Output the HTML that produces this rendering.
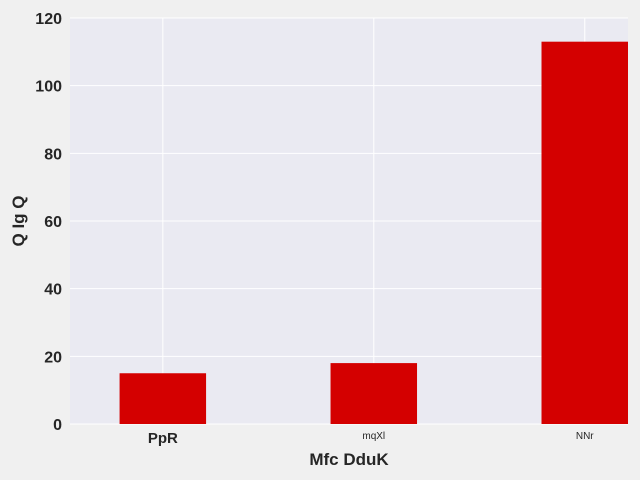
<!DOCTYPE html>
<html><head><meta charset="utf-8"><style>
body{margin:0;background:#f0f0f0;}
svg{display:block;font-family:"Liberation Sans",sans-serif;}
</style></head><body>
<svg id="chart" width="640" height="480">
<rect x="0" y="0" width="640" height="480" fill="#f0f0f0"/>
<rect x="70" y="18" width="558" height="406" fill="#eaeaf2"/>
<g id="grid"></g><g id="bars"></g><g id="ticks"></g>
<text x="349" y="465" text-anchor="middle" font-size="17" font-weight="bold" fill="#262626">Mfc DduK</text>
<text transform="translate(24,221) rotate(-90)" text-anchor="middle" font-size="17" font-weight="bold" fill="#262626">Q Ig Q</text>
</svg>
<script>
const categories=["PpR","mqXl","NNr"];
const values=[15,18,113];
const yTicks=[0,20,40,60,80,100,120];
const ns="http://www.w3.org/2000/svg";
const L=70,R=628,T=18,B=424;
const xMin=-0.44,xMax=2.205,yMax=120;
const xs=v=>L+(v-xMin)/(xMax-xMin)*(R-L);
const ys=v=>B-v/yMax*(B-T);
function mk(tag,attrs,parent){const e=document.createElementNS(ns,tag);for(const k in attrs)e.setAttribute(k,attrs[k]);document.getElementById(parent).appendChild(e);return e;}
yTicks.forEach(t=>{
 const g=mk('line',{x1:L,x2:R,y1:ys(t),y2:ys(t),stroke:'#fff','stroke-width':1},'grid');
 
 
 const tx=mk('text',{x:L-8,y:ys(t)+6,'text-anchor':'end','font-size':16,'font-weight':'bold',fill:'#262626'},'ticks');
 tx.textContent=t;
 
 
});
categories.forEach((c,i)=>{
 const g=mk('line',{x1:xs(i),x2:xs(i),y1:T,y2:B,stroke:'#fff','stroke-width':1},'grid');
 
 
 const w=0.41*(R-L)/(xMax-xMin);
 const b=mk('rect',{x:xs(i)-w/2,y:ys(values[i]),width:w,height:B-ys(values[i]),fill:'#d40000'},'bars');
 
 
 const big=i===0;
 const tx=mk('text',{x:xs(i),y:big?443:439,'text-anchor':'middle','font-size':big?15:10,'font-weight':big?'bold':'normal',fill:'#262626'},'ticks');
 tx.textContent=c;
 
 
});
</script>
</body></html>
